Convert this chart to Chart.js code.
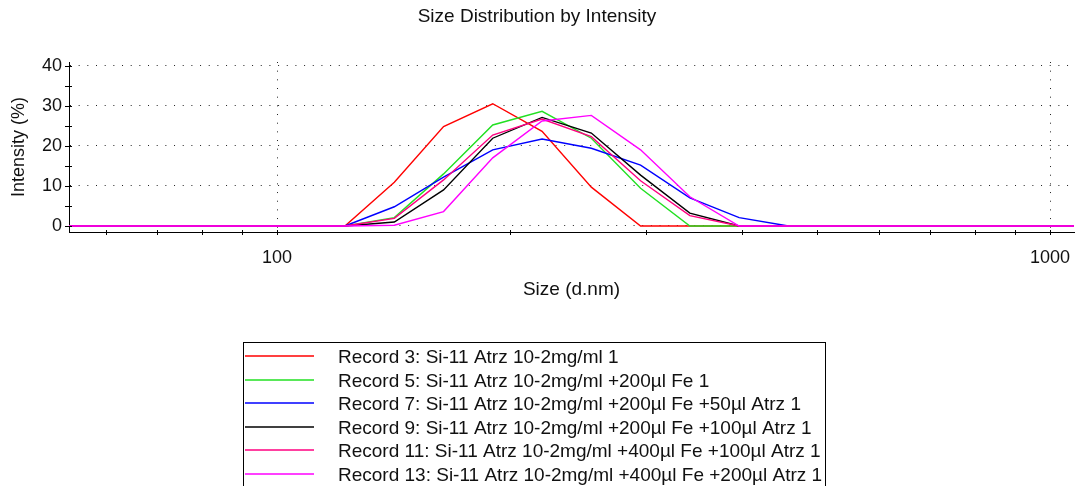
<!DOCTYPE html>
<html>
<head>
<meta charset="utf-8">
<script src="https://cdn.jsdelivr.net/npm/chart.js@4.4.1/dist/chart.umd.min.js"></script>
<style>
  html, body { margin: 0; padding: 0; background: #fff; overflow: hidden; }
</style>
</head>
<body>
<canvas id="c" width="1075" height="486"></canvas>
<script>
// size bins (d.nm) and intensity (%) per record
const sizes = [50.75, 58.77, 68.06, 78.82, 91.28, 105.7, 122.4, 141.8, 164.2, 190.1, 220.2,
               255.0, 295.3, 342.0, 396.1, 458.7, 531.2, 615.1, 712.4, 825.0, 955.4, 1106];
const record3  = [0, 0, 0, 0, 0, 0, 0, 10.9, 24.8, 30.5, 23.6,  9.7,  0,   0,   0,   0,   0, 0, 0, 0, 0, 0];
const record5  = [0, 0, 0, 0, 0, 0, 0,  2.1, 13.0, 25.2, 28.6, 21.9,  9.4, 0,   0,   0,   0, 0, 0, 0, 0, 0];
const record7  = [0, 0, 0, 0, 0, 0, 0,  4.8, 12.2, 19.0, 21.7, 19.4, 15.2, 7.0, 2.1, 0,   0, 0, 0, 0, 0, 0];
const record9  = [0, 0, 0, 0, 0, 0, 0,  1.0,  9.0, 21.9, 27.1, 23.2, 12.7, 3.2, 0,   0,   0, 0, 0, 0, 0, 0];
const record11 = [0, 0, 0, 0, 0, 0, 0,  1.9, 11.5, 22.7, 26.7, 22.3, 11.3, 2.6, 0,   0,   0, 0, 0, 0, 0, 0];
const record13 = [0, 0, 0, 0, 0, 0, 0,  0.2,  3.6, 17.0, 26.2, 27.6, 19.0, 7.3, 0,   0,   0, 0, 0, 0, 0, 0];

const seriesLabels = [
  'Record 3: Si-11 Atrz 10-2mg/ml 1',
  'Record 5: Si-11 Atrz 10-2mg/ml +200µl Fe 1',
  'Record 7: Si-11 Atrz 10-2mg/ml +200µl Fe +50µl Atrz 1',
  'Record 9: Si-11 Atrz 10-2mg/ml +200µl Fe +100µl Atrz 1',
  'Record 11: Si-11 Atrz 10-2mg/ml +400µl Fe +100µl Atrz 1',
  'Record 13: Si-11 Atrz 10-2mg/ml +400µl Fe +200µl Atrz 1'
];
const seriesValues = [record3, record5, record7, record9, record11, record13];
const seriesColors = ['#ff0000', '#22e022', '#0000ff', '#000000', '#ff0080', '#ff00ff'];

const xTicks = [60, 70, 80, 90, 100, 200, 300, 400, 500, 600, 700, 800, 900, 1000];
const xLabelled = [100, 1000];
const yTicks = [0, 5, 10, 15, 20, 25, 30, 35, 40];
const yLabelled = [0, 10, 20, 30, 40];

const FONT = "'Liberation Sans', Arial, sans-serif";
Chart.defaults.color = '#111';
Chart.defaults.font.family = FONT;

// small tick marks that cross the axis lines
const crossTicks = {
  id: 'crossTicks',
  afterDraw(chart) {
    const { ctx, chartArea: a, scales: { x, y } } = chart;
    ctx.save();
    ctx.strokeStyle = '#000';
    ctx.lineWidth = 1;
    ctx.beginPath();
    for (const v of xTicks) {
      const px = Math.round(x.getPixelForValue(v)) + 0.5;
      ctx.moveTo(px, a.bottom - 2);
      ctx.lineTo(px, a.bottom + 3);
    }
    for (const v of yTicks) {
      const py = Math.round(y.getPixelForValue(v)) + 0.5;
      ctx.moveTo(a.left - 4, py);
      ctx.lineTo(a.left + 3, py);
    }
    ctx.stroke();
    ctx.restore();
  }
};

// boxed legend below the plot
const boxLegend = {
  id: 'boxLegend',
  afterDraw(chart) {
    const ctx = chart.ctx;
    ctx.save();
    ctx.strokeStyle = '#000';
    ctx.lineWidth = 1;
    ctx.strokeRect(243.5, 342.5, 582, 160);
    ctx.font = '19px ' + FONT;
    ctx.textBaseline = 'middle';
    ctx.fillStyle = '#111';
    chart.data.datasets.forEach((ds, i) => {
      const ly = Math.round(356 + i * 23.6);
      ctx.strokeStyle = ds.borderColor;
      ctx.lineWidth = 1.5;
      ctx.beginPath();
      ctx.moveTo(245, ly);
      ctx.lineTo(314, ly);
      ctx.stroke();
      ctx.fillText(ds.label, 338, ly + 2);
    });
    ctx.restore();
  }
};

new Chart(document.getElementById('c'), {
  type: 'line',
  data: {
    datasets: seriesLabels.map((label, i) => ({
      label,
      data: sizes.map((s, j) => ({ x: s, y: seriesValues[i][j] })),
      borderColor: seriesColors[i],
      backgroundColor: seriesColors[i],
      borderWidth: 1.4,
      pointRadius: 0,
      tension: 0,
      order: seriesLabels.length - i
    }))
  },
  options: {
    responsive: false,
    animation: false,
    events: [],
    layout: { padding: { top: 0, right: 1, bottom: 174, left: 0 } },
    plugins: {
      legend: { display: false },
      tooltip: { enabled: false },
      title: {
        display: true,
        text: 'Size Distribution by Intensity',
        font: { size: 19, weight: 'normal' },
        padding: { top: 5, bottom: 34.2 }
      }
    },
    scales: {
      x: {
        type: 'logarithmic',
        min: 53.8,
        max: 1074,
        afterBuildTicks: s => { s.ticks = xTicks.map(v => ({ value: v })); },
        afterFit: s => { s.height = 80; },
        ticks: {
          autoSkip: false, maxRotation: 0, padding: 0,
          font: { size: 18 },
          callback: v => xLabelled.includes(v) ? String(v) : ''
        },
        grid: {
          color: c => c.tick && xLabelled.includes(c.tick.value) ? '#222' : 'rgba(0,0,0,0)',
          tickColor: 'rgba(0,0,0,0)',
          tickLength: 15
        },
        border: { color: '#000', width: 1, dash: [1, 7.67] },
        title: { display: true, text: 'Size (d.nm)', font: { size: 19 }, padding: { top: 11, bottom: 11 } }
      },
      y: {
        min: -1.5,
        max: 40.92,
        afterBuildTicks: s => { s.ticks = yTicks.map(v => ({ value: v })); },
        afterFit: s => { s.width = 69; },
        ticks: {
          padding: 0,
          font: { size: 18 },
          callback: v => yLabelled.includes(v) ? String(v) : ''
        },
        grid: {
          color: c => c.tick && yLabelled.includes(c.tick.value) ? '#222' : 'rgba(0,0,0,0)',
          tickColor: 'rgba(0,0,0,0)',
          tickLength: 7
        },
        border: { color: '#000', width: 1, dash: [1, 7.67] },
        title: { display: true, text: 'Intensity (%)', font: { size: 18 }, padding: { top: 8, bottom: 8 } }
      }
    }
  },
  plugins: [crossTicks, boxLegend]
});
</script>
</body>
</html>
